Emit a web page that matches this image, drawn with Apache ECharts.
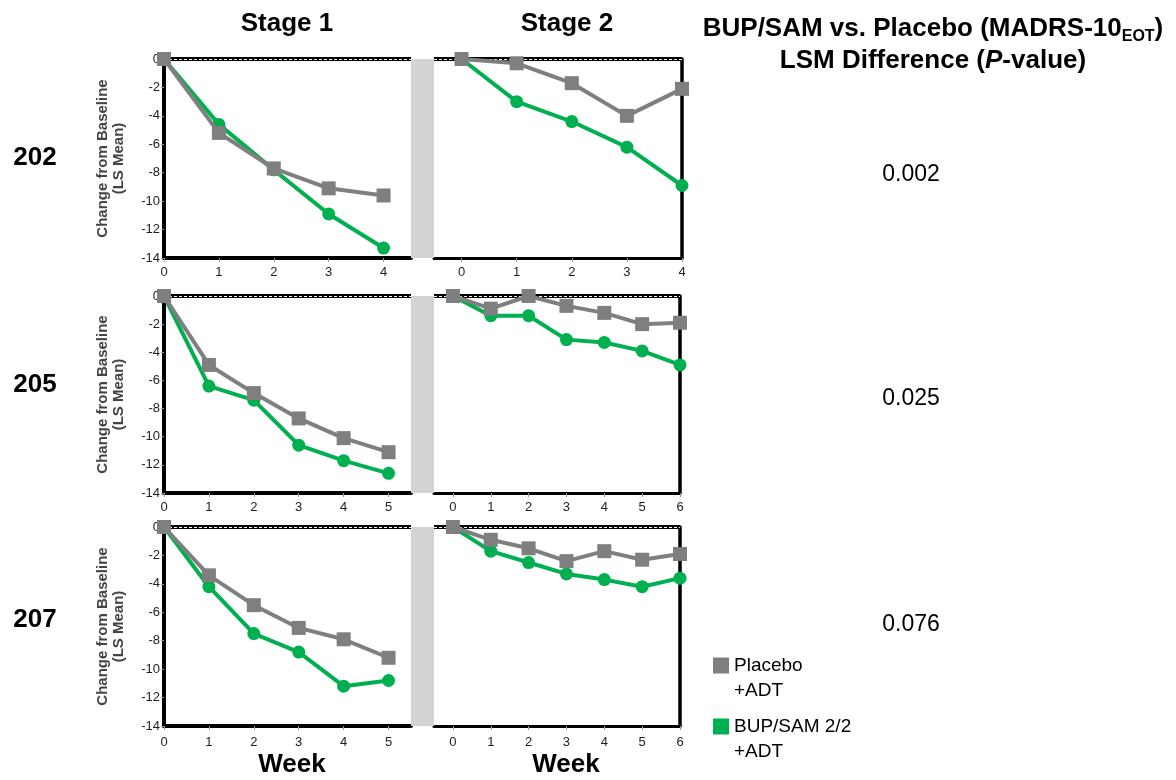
<!DOCTYPE html>
<html>
<head>
<meta charset="utf-8">
<script src="https://cdn.jsdelivr.net/npm/echarts@6/dist/echarts.min.js"></script>
<style>
html,body{margin:0;padding:0;background:#fff;}
#chart{width:1176px;height:780px;}
</style>
</head>
<body>
<div id="chart"></div>
<script>
// ---------------- DATA ----------------
const studies = ['202', '205', '207'];
const pValues = ['0.002', '0.025', '0.076'];
const seriesNames = ['Placebo\n+ADT', 'BUP/SAM 2/2\n+ADT'];
const yTicks = [0, -2, -4, -6, -8, -10, -12, -14];

const s1Weeks202 = [0, 1, 2, 3, 4];
const s2Weeks202 = [0, 1, 2, 3, 4];
const s1Weeks205 = [0, 1, 2, 3, 4, 5];
const s2Weeks205 = [0, 1, 2, 3, 4, 5, 6];
const s1Weeks207 = [0, 1, 2, 3, 4, 5];
const s2Weeks207 = [0, 1, 2, 3, 4, 5, 6];

const placebo202S1 = [0, -5.2, -7.7, -9.1, -9.6];
const bup202S1     = [0, -4.6, -7.8, -10.9, -13.3];
const placebo202S2 = [0, -0.3, -1.7, -4.0, -2.1];
const bup202S2     = [0, -3.0, -4.4, -6.2, -8.9];

const placebo205S1 = [0, -4.9, -6.9, -8.7, -10.1, -11.1];
const bup205S1     = [0, -6.4, -7.4, -10.6, -11.7, -12.6];
const placebo205S2 = [0, -0.9, 0, -0.7, -1.2, -2.0, -1.9];
const bup205S2     = [0, -1.4, -1.4, -3.1, -3.3, -3.9, -4.9];

const placebo207S1 = [0, -3.4, -5.5, -7.1, -7.9, -9.2];
const bup207S1     = [0, -4.2, -7.5, -8.8, -11.2, -10.8];
const placebo207S2 = [0, -0.9, -1.5, -2.4, -1.7, -2.3, -1.9];
const bup207S2     = [0, -1.7, -2.5, -3.3, -3.7, -4.2, -3.6];

// ---------------- STRUCTURE ----------------
const panels = [
  [ {weeks: s1Weeks202, pl: placebo202S1, bu: bup202S1}, {weeks: s2Weeks202, pl: placebo202S2, bu: bup202S2} ],
  [ {weeks: s1Weeks205, pl: placebo205S1, bu: bup205S1}, {weeks: s2Weeks205, pl: placebo205S2, bu: bup205S2} ],
  [ {weeks: s1Weeks207, pl: placebo207S1, bu: bup207S1}, {weeks: s2Weeks207, pl: placebo207S2, bu: bup207S2} ]
];

// layout (pixels)
const rowBoxes = [ {top: 59, height: 199, s2Right: 682}, {top: 296, height: 197, s2Right: 680}, {top: 527, height: 199, s2Right: 680} ];
const s1Left = 164, s1Right = 411, s2Left = 434;
const rowLabelY = [158, 385, 620];
const pValueY = [175, 399, 625];

const FONT = '"Liberation Sans", Arial, Helvetica, sans-serif';
const GRAY = '#7f7f7f';
const GREEN = '#00b050';

const grids = [], xAxes = [], yAxes = [], series = [], graphics = [];

panels.forEach((row, r) => {
  const box = rowBoxes[r];
  row.forEach((p, s) => {
    const g = grids.length;
    const left = s === 0 ? s1Left : s2Left;
    const right = s === 0 ? s1Right : box.s2Right;
    grids.push({ left: left, top: box.top, width: right - left, height: box.height, containLabel: false });
    const last = p.weeks[p.weeks.length - 1];
    xAxes.push({
      type: 'value', gridIndex: g,
      min: s === 0 ? 0 : -0.5,
      max: s === 0 ? last + 0.5 : last,
      position: 'bottom',
      axisLine: { show: true, onZero: false, lineStyle: { color: '#000', width: s === 0 ? 4 : 3 } },
      axisTick: { show: true, length: 4, customValues: p.weeks, lineStyle: { color: '#999', width: 1 } },
      axisLabel: { customValues: p.weeks, margin: r === 2 ? 10 : 8, fontSize: 13, color: '#222', fontFamily: FONT },
      splitLine: { show: false }
    });
    yAxes.push({
      type: 'value', gridIndex: g, min: -14, max: 0, interval: 2,
      position: s === 0 ? 'left' : 'right',
      axisLine: { show: true, onZero: false, lineStyle: { color: '#000', width: s === 0 ? 4 : 3.5 } },
      axisTick: { show: s === 0, length: 3, lineStyle: { color: '#999' } },
      axisLabel: { show: s === 0, margin: 4, fontSize: 13, color: '#222', fontFamily: FONT },
      splitLine: { show: false },
      name: s === 0 ? 'Change from Baseline\n(LS Mean)' : '',
      nameLocation: 'middle', nameRotate: 90, nameGap: 37,
      nameTextStyle: { fontSize: 15, fontWeight: 'bold', color: '#444', lineHeight: 16, fontFamily: FONT }
    });
    series.push({
      name: seriesNames[0], type: 'line', xAxisIndex: g, yAxisIndex: g,
      data: p.weeks.map((w, i) => [w, p.pl[i]]),
      symbol: 'rect', symbolSize: 14, clip: false,
      color: GRAY, lineStyle: { color: GRAY, width: 4 }, itemStyle: { color: GRAY },
      z: 3,
      markLine: {
        silent: true, symbol: 'none', z: 1, label: { show: false },
        animation: false,
        data: [
          { yAxis: 0, lineStyle: { color: '#000', width: 4, type: 'solid' } },
          { yAxis: 0, lineStyle: { color: '#fff', width: 1, type: [3, 2] } }
        ]
      }
    });
    series.push({
      name: seriesNames[1], type: 'line', xAxisIndex: g, yAxisIndex: g,
      data: p.weeks.map((w, i) => [w, p.bu[i]]),
      symbol: 'circle', symbolSize: 13, clip: false,
      color: GREEN, lineStyle: { color: GREEN, width: 4 }, itemStyle: { color: GREEN },
      z: 2
    });
  });
  // gray separator between stages
  graphics.push({
    type: 'rect', z: 10, silent: true,
    shape: { x: s1Right, y: box.top, width: s2Left - s1Right, height: box.height },
    style: { fill: '#d3d3d3' }
  });
  graphics.push({
    type: 'text', x: 35, y: rowLabelY[r],
    style: { text: studies[r], fill: '#000', font: 'bold 26px ' + FONT, align: 'center', verticalAlign: 'middle' }
  });
  graphics.push({
    type: 'text', x: 911, y: pValueY[r],
    style: { text: pValues[r], fill: '#000', font: '23px ' + FONT, align: 'center', verticalAlign: 'middle' }
  });
});

// headers
graphics.push({ type: 'text', x: 287, y: 24, style: { text: 'Stage 1', fill: '#000', font: 'bold 26px ' + FONT, align: 'center', verticalAlign: 'middle' } });
graphics.push({ type: 'text', x: 567, y: 24, style: { text: 'Stage 2', fill: '#000', font: 'bold 26px ' + FONT, align: 'center', verticalAlign: 'middle' } });
graphics.push({ type: 'text', x: 292, y: 765, style: { text: 'Week', fill: '#000', font: 'bold 26px ' + FONT, align: 'center', verticalAlign: 'middle' } });
graphics.push({ type: 'text', x: 566, y: 765, style: { text: 'Week', fill: '#000', font: 'bold 26px ' + FONT, align: 'center', verticalAlign: 'middle' } });
graphics.push({
  type: 'text', x: 933, y: 45,
  style: {
    text: '{b|BUP/SAM vs. Placebo (MADRS-10}{s|EOT}{b|)}\n{b|LSM Difference (}{bi|P}{b|-value)}',
    align: 'center', verticalAlign: 'middle',
    rich: {
      b: { fontSize: 26, fontWeight: 'bold', fontFamily: FONT, fill: '#000', lineHeight: 32 },
      bi: { fontSize: 26, fontWeight: 'bold', fontStyle: 'italic', fontFamily: FONT, fill: '#000', lineHeight: 32 },
      s: { fontSize: 16, fontWeight: 'bold', fontFamily: FONT, fill: '#000', verticalAlign: 'bottom', lineHeight: 32 }
    }
  }
});

const chart = echarts.init(document.getElementById('chart'), null, { renderer: 'canvas' });
chart.setOption({
  animation: false,
  backgroundColor: '#fff',
  grid: grids,
  xAxis: xAxes,
  yAxis: yAxes,
  series: series,
  legend: {
    data: seriesNames,
    orient: 'vertical', left: 708, top: 623,
    icon: 'rect', itemWidth: 16, itemHeight: 16, itemGap: -14,
    selectedMode: false,
    formatter: function (name) { return ' \n' + name; },
    textStyle: { fontSize: 19, color: '#000', fontFamily: FONT, lineHeight: 25 }
  },
  graphic: graphics
});
</script>
</body>
</html>
